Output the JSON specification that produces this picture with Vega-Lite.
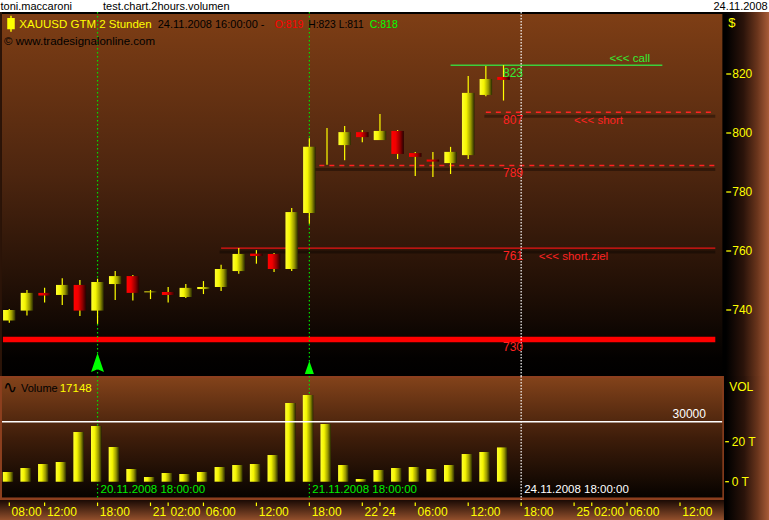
{
"$schema": "https://vega.github.io/schema/vega-lite/v6.json",
"padding": 0,
"background": "#ffffff",
"bounds": "flush",
"spacing": 0,
"config": {"view": {"stroke": null}, "font": "Liberation Sans"},
"datasets": {
"candles": [
{"bar":0,"o":736.4,"h":740.3,"l":735.7,"c":740.0,"v":4850},
{"bar":1,"o":739.8,"h":746.8,"l":738.1,"c":745.8,"v":6850},
{"bar":2,"o":745.8,"h":747.5,"l":742.5,"c":744.9,"v":8850},
{"bar":3,"o":745.1,"h":750.8,"l":741.7,"c":748.5,"v":9850},
{"bar":4,"o":748.5,"h":750.2,"l":738.0,"c":739.8,"v":24850},
{"bar":5,"o":739.8,"h":750.6,"l":735.3,"c":749.5,"v":27850},
{"bar":6,"o":748.8,"h":753.2,"l":743.4,"c":751.5,"v":17350},
{"bar":7,"o":751.5,"h":751.9,"l":743.2,"c":745.8,"v":6350},
{"bar":8,"o":746.0,"h":746.8,"l":743.7,"c":746.3,"v":2350},
{"bar":9,"o":746.1,"h":747.8,"l":742.5,"c":745.1,"v":4350},
{"bar":10,"o":744.4,"h":748.8,"l":744.1,"c":747.5,"v":3850},
{"bar":11,"o":747.1,"h":749.8,"l":745.4,"c":747.8,"v":4850},
{"bar":12,"o":747.8,"h":755.3,"l":746.4,"c":753.9,"v":7350},
{"bar":13,"o":753.2,"h":761.0,"l":752.3,"c":759.0,"v":8350},
{"bar":14,"o":759.1,"h":760.3,"l":755.7,"c":758.3,"v":8850},
{"bar":15,"o":759.0,"h":759.3,"l":752.9,"c":753.9,"v":13350},
{"bar":16,"o":753.9,"h":774.6,"l":753.2,"c":773.2,"v":39350},
{"bar":17,"o":772.9,"h":798.2,"l":769.2,"c":795.3,"v":43350},
{"bar":18,"o":796.0,"h":801.7,"l":789.2,"c":796.0,"v":28850},
{"bar":19,"o":795.9,"h":802.4,"l":790.8,"c":800.3,"v":8350},
{"bar":20,"o":800.3,"h":801.0,"l":796.9,"c":798.6,"v":1350},
{"bar":21,"o":797.6,"h":806.4,"l":797.6,"c":800.7,"v":5850},
{"bar":22,"o":800.7,"h":801.0,"l":791.2,"c":792.9,"v":6850},
{"bar":23,"o":793.2,"h":793.6,"l":785.4,"c":791.9,"v":7350},
{"bar":24,"o":791.0,"h":793.6,"l":785.1,"c":790.3,"v":6350},
{"bar":25,"o":789.8,"h":795.3,"l":786.1,"c":793.6,"v":8350},
{"bar":26,"o":792.5,"h":819.3,"l":791.2,"c":813.6,"v":13850},
{"bar":27,"o":812.9,"h":822.7,"l":812.5,"c":818.3,"v":14850},
{"bar":28,"o":819,"h":823,"l":811,"c":818,"v":17148}
],
"levels": [
{"level":823,"from":25,"to":37,"kind":"call"},
{"level":807,"from":27,"to":40,"kind":"short"},
{"level":789,"from":17,"to":40,"kind":"entry"},
{"level":761,"from":12,"to":40,"kind":"target"},
{"level":730,"from":-0.36,"to":40,"kind":"support"}
],
"markers": [
{"bar":5,"label":"20.11.2008 18:00:00","kind":"signal"},
{"bar":17,"label":"21.11.2008 18:00:00","kind":"signal"},
{"bar":29,"label":"24.11.2008 18:00:00","kind":"now"}
],
"arrows": [
{"bar":5,"y":722.2,"kind":"big"},
{"bar":17,"y":720.5,"kind":"small"}
],
"priceTicks": [{"p":740},{"p":760},{"p":780},{"p":800},{"p":820}],
"volTicks": [{"v":0,"label":"0 T"},{"v":20000,"label":"20 T"}],
"timeTicks": [
{"bar":0,"label":"08:00"},{"bar":2,"label":"12:00"},{"bar":5,"label":"18:00"},
{"bar":8,"label":"21"},{"bar":9,"label":"02:00"},{"bar":11,"label":"06:00"},
{"bar":14,"label":"12:00"},{"bar":17,"label":"18:00"},{"bar":20,"label":"22"},
{"bar":21,"label":"24"},{"bar":23,"label":"06:00"},{"bar":26,"label":"12:00"},
{"bar":29,"label":"18:00"},{"bar":32,"label":"25"},{"bar":33,"label":"02:00"},
{"bar":35,"label":"06:00"},{"bar":38,"label":"12:00"}
]
},
"vconcat": [
{
"width": 769, "height": 12,
"view": {"fill": "#ffffff", "stroke": null},
"data": {"values": [{}]},
"layer": [
{"mark": {"type":"text","align":"left","baseline":"alphabetic","dy":4,"fontSize":11,"color":"#000000","text":"toni.maccaroni"},
 "encoding": {"x": {"datum": -0.5, "type":"quantitative","scale":{"domain":[-0.527,43.042],"nice":false,"zero":false,"padding":0},"axis":null}}},
{"mark": {"type":"text","align":"left","baseline":"alphabetic","dy":4,"fontSize":11,"color":"#000000","text":"test.chart.2hours.volumen"},
 "encoding": {"x": {"datum": 5.31, "type":"quantitative","scale":{"domain":[-0.527,43.042],"nice":false,"zero":false,"padding":0},"axis":null}}},
{"mark": {"type":"text","align":"right","baseline":"alphabetic","dy":4,"fontSize":11,"color":"#000000","text":"24.11.2008"},
 "encoding": {"x": {"datum": 42.97, "type":"quantitative","scale":{"domain":[-0.527,43.042],"nice":false,"zero":false,"padding":0},"axis":null}}}
]
},
{
"width": 769, "height": 364,
"view": {"stroke": null, "fill": {"gradient":"linear","x1":0,"y1":0,"x2":0,"y2":1,"stops":[{"offset":0,"color":"#000000"},{"offset":0.005,"color":"#000000"},{"offset":0.0065,"color":"#7e3e15"},{"offset":0.45,"color":"#4c250f"},{"offset":0.78,"color":"#1e0e05"},{"offset":0.95,"color":"#030100"},{"offset":1,"color":"#000000"}]}},
"layer": [
{"data":{"values":[{}]},"mark":{"type":"rect","fill":"#2b1408"},
 "encoding":{"x":{"datum":-0.527,"type":"quantitative","scale":{"domain":[-0.527,43.042],"nice":false,"zero":false,"padding":0},"axis":null},"x2":{"datum":-0.414}}},
{"data":{"name":"levels"},"transform":[{"filter":"indexof(['short','entry','target'], datum.kind) >= 0"}],
 "mark":{"type":"rule","color":"#000000","opacity":0.35,"strokeWidth":3,"yOffset":4,"xOffset":-1.5},
 "encoding":{"x":{"field":"from","type":"quantitative","scale":{"domain":[-0.527,43.042],"nice":false,"zero":false,"padding":0},"axis":null},"x2":{"field":"to"},
  "y":{"field":"level","type":"quantitative","scale":{"domain":[717.627,841.017],"nice":false,"zero":false},"axis":null}}},
{"data":{"name":"levels"},"transform":[{"filter":"datum.kind === 'call'"}],
 "mark":{"type":"rule","color":"#3ccf3c","strokeWidth":1.5},
 "encoding":{"x":{"field":"from","type":"quantitative","scale":{"domain":[-0.527,43.042],"nice":false,"zero":false,"padding":0},"axis":null},"x2":{"field":"to"},
  "y":{"field":"level","type":"quantitative","scale":{"domain":[717.627,841.017],"nice":false,"zero":false},"axis":null}}},
{"data":{"name":"levels"},"transform":[{"filter":"datum.kind === 'short' || datum.kind === 'entry'"}],
 "mark":{"type":"rule","color":"#ff2222","strokeWidth":1.5,"strokeDash":[5,5]},
 "encoding":{"x":{"field":"from","type":"quantitative","scale":{"domain":[-0.527,43.042],"nice":false,"zero":false,"padding":0},"axis":null},"x2":{"field":"to"},
  "y":{"field":"level","type":"quantitative","scale":{"domain":[717.627,841.017],"nice":false,"zero":false},"axis":null}}},
{"data":{"name":"levels"},"transform":[{"filter":"datum.kind === 'target'"}],
 "mark":{"type":"rule","color":"#e81414","strokeWidth":1.3},
 "encoding":{"x":{"field":"from","type":"quantitative","scale":{"domain":[-0.527,43.042],"nice":false,"zero":false,"padding":0},"axis":null},"x2":{"field":"to"},
  "y":{"field":"level","type":"quantitative","scale":{"domain":[717.627,841.017],"nice":false,"zero":false},"axis":null}}},
{"data":{"name":"levels"},"transform":[{"filter":"datum.kind === 'support'"}],
 "mark":{"type":"rule","color":"#ff0000","strokeWidth":5.5},
 "encoding":{"x":{"field":"from","type":"quantitative","scale":{"domain":[-0.527,43.042],"nice":false,"zero":false,"padding":0},"axis":null},"x2":{"field":"to"},
  "y":{"field":"level","type":"quantitative","scale":{"domain":[717.627,841.017],"nice":false,"zero":false},"axis":null}}},
{"data":{"name":"markers"},"transform":[{"filter":"datum.kind === 'signal'"}],
 "mark":{"type":"rule","color":"#00e000","strokeWidth":1.2,"strokeDash":[1.5,2.5]},
 "encoding":{"x":{"field":"bar","type":"quantitative","scale":{"domain":[-0.527,43.042],"nice":false,"zero":false,"padding":0},"axis":null}}},
{"data":{"name":"markers"},"transform":[{"filter":"datum.kind === 'now'"}],
 "mark":{"type":"rule","color":"#ffffff","strokeWidth":1.2,"strokeDash":[1.5,1.5]},
 "encoding":{"x":{"field":"bar","type":"quantitative","scale":{"domain":[-0.527,43.042],"nice":false,"zero":false,"padding":0},"axis":null}}},
{"data":{"name":"candles"},
 "mark":{"type":"rule","color":"#ffff00","strokeWidth":1.2},
 "encoding":{"x":{"field":"bar","type":"quantitative","scale":{"domain":[-0.527,43.042],"nice":false,"zero":false,"padding":0},"axis":null},
  "y":{"field":"l","type":"quantitative","scale":{"domain":[717.627,841.017],"nice":false,"zero":false},"axis":null},
  "y2":{"field":"h"}}},
{"data":{"name":"candles"},"transform":[{"filter":"datum.c >= datum.o"}],
 "mark":{"type":"bar","width":12.5,"fill":{"gradient":"linear","x1":0,"y1":0,"x2":1,"y2":0,"stops":[{"offset":0,"color":"#ffff30"},{"offset":0.35,"color":"#f5f500"},{"offset":0.7,"color":"#9a9a00"},{"offset":1,"color":"#262600"}]}},
 "encoding":{"x":{"field":"bar","type":"quantitative","scale":{"domain":[-0.527,43.042],"nice":false,"zero":false,"padding":0},"axis":null},
  "y":{"field":"o","type":"quantitative","scale":{"domain":[717.627,841.017],"nice":false,"zero":false},"axis":null},"y2":{"field":"c"}}},
{"data":{"name":"candles"},"transform":[{"filter":"datum.c < datum.o"}],
 "mark":{"type":"bar","width":12.5,"fill":{"gradient":"linear","x1":0,"y1":0,"x2":1,"y2":0,"stops":[{"offset":0,"color":"#ff0000"},{"offset":0.35,"color":"#f00000"},{"offset":0.7,"color":"#900000"},{"offset":1,"color":"#250000"}]}},
 "encoding":{"x":{"field":"bar","type":"quantitative","scale":{"domain":[-0.527,43.042],"nice":false,"zero":false,"padding":0},"axis":null},
  "y":{"field":"o","type":"quantitative","scale":{"domain":[717.627,841.017],"nice":false,"zero":false},"axis":null},"y2":{"field":"c"}}},
{"data":{"name":"arrows"},"transform":[{"filter":"datum.kind === 'big'"}],
 "mark":{"type":"point","filled":true,"opacity":1,"color":"#00ff00","size":361,"shape":"M0,-1L0.68,1L0,0.72L-0.68,1Z"},
 "encoding":{"x":{"field":"bar","type":"quantitative","scale":{"domain":[-0.527,43.042],"nice":false,"zero":false,"padding":0},"axis":null},
  "y":{"field":"y","type":"quantitative","scale":{"domain":[717.627,841.017],"nice":false,"zero":false},"axis":null}}},
{"data":{"name":"arrows"},"transform":[{"filter":"datum.kind === 'small'"}],
 "mark":{"type":"point","filled":true,"opacity":1,"color":"#00ff00","size":169,"shape":"M0,-1L0.7,1L-0.7,1Z"},
 "encoding":{"x":{"field":"bar","type":"quantitative","scale":{"domain":[-0.527,43.042],"nice":false,"zero":false,"padding":0},"axis":null},
  "y":{"field":"y","type":"quantitative","scale":{"domain":[717.627,841.017],"nice":false,"zero":false},"axis":null}}},
{"data":{"name":"levels"},
 "mark":{"type":"text","align":"left","baseline":"top","dy":3,"dx":-0.5,"fontSize":12},
 "encoding":{"x":{"datum":28,"type":"quantitative","scale":{"domain":[-0.527,43.042],"nice":false,"zero":false,"padding":0},"axis":null},
  "y":{"field":"level","type":"quantitative","scale":{"domain":[717.627,841.017],"nice":false,"zero":false},"axis":null},
  "text":{"field":"level","type":"quantitative"},
  "color":{"condition":{"test":"datum.kind === 'call'","value":"#33ee33"},"value":"#ff2222"}}},
{"data":{"values":[{}]},
 "mark":{"type":"text","align":"left","baseline":"bottom","dy":-1.5,"fontSize":11.5,"color":"#33ee33","text":"<<< call"},
 "encoding":{"x":{"datum":34,"type":"quantitative","scale":{"domain":[-0.527,43.042],"nice":false,"zero":false,"padding":0},"axis":null},
  "y":{"datum":823,"type":"quantitative","scale":{"domain":[717.627,841.017],"nice":false,"zero":false},"axis":null}}},
{"data":{"values":[{}]},
 "mark":{"type":"text","align":"left","baseline":"top","dy":3,"fontSize":11.5,"color":"#ff2222","text":"<<< short"},
 "encoding":{"x":{"datum":32,"type":"quantitative","scale":{"domain":[-0.527,43.042],"nice":false,"zero":false,"padding":0},"axis":null},
  "y":{"datum":807,"type":"quantitative","scale":{"domain":[717.627,841.017],"nice":false,"zero":false},"axis":null}}},
{"data":{"values":[{}]},
 "mark":{"type":"text","align":"left","baseline":"top","dy":3,"fontSize":11.5,"color":"#ff2222","text":"<<< short.ziel"},
 "encoding":{"x":{"datum":30,"type":"quantitative","scale":{"domain":[-0.527,43.042],"nice":false,"zero":false,"padding":0},"axis":null},
  "y":{"datum":761,"type":"quantitative","scale":{"domain":[717.627,841.017],"nice":false,"zero":false},"axis":null}}},
{"data":{"values":[{}]},
 "mark":{"type":"text","align":"left","baseline":"alphabetic","fontSize":11.5,"color":"#ffff00","text":"XAUUSD GTM 2 Stunden"},
 "encoding":{"x":{"datum":0.567,"type":"quantitative","scale":{"domain":[-0.527,43.042],"nice":false,"zero":false,"padding":0},"axis":null},
  "y":{"datum":835.59,"type":"quantitative","scale":{"domain":[717.627,841.017],"nice":false,"zero":false},"axis":null}}},
{"data":{"values":[{}]},
 "mark":{"type":"text","align":"left","baseline":"alphabetic","fontSize":11,"color":"#000000","text":"24.11.2008 16:00:00 -"},
 "encoding":{"x":{"datum":8.408,"type":"quantitative","scale":{"domain":[-0.527,43.042],"nice":false,"zero":false,"padding":0},"axis":null},
  "y":{"datum":835.59,"type":"quantitative","scale":{"domain":[717.627,841.017],"nice":false,"zero":false},"axis":null}}},
{"data":{"values":[{}]},
 "mark":{"type":"text","align":"left","baseline":"alphabetic","fontSize":10.5,"color":"#ff0000","text":"O:819"},
 "encoding":{"x":{"datum":15.037,"type":"quantitative","scale":{"domain":[-0.527,43.042],"nice":false,"zero":false,"padding":0},"axis":null},
  "y":{"datum":835.59,"type":"quantitative","scale":{"domain":[717.627,841.017],"nice":false,"zero":false},"axis":null}}},
{"data":{"values":[{}]},
 "mark":{"type":"text","align":"left","baseline":"alphabetic","fontSize":10.3,"color":"#000000","text":"H:823 L:811"},
 "encoding":{"x":{"datum":16.941,"type":"quantitative","scale":{"domain":[-0.527,43.042],"nice":false,"zero":false,"padding":0},"axis":null},
  "y":{"datum":835.59,"type":"quantitative","scale":{"domain":[717.627,841.017],"nice":false,"zero":false},"axis":null}}},
{"data":{"values":[{}]},
 "mark":{"type":"text","align":"left","baseline":"alphabetic","fontSize":10.5,"color":"#00ff00","text":"C:818"},
 "encoding":{"x":{"datum":20.42,"type":"quantitative","scale":{"domain":[-0.527,43.042],"nice":false,"zero":false,"padding":0},"axis":null},
  "y":{"datum":835.59,"type":"quantitative","scale":{"domain":[717.627,841.017],"nice":false,"zero":false},"axis":null}}},
{"data":{"values":[{}]},
 "mark":{"type":"text","align":"left","baseline":"alphabetic","fontSize":11.5,"color":"#000000","text":"© www.tradesignalonline.com"},
 "encoding":{"x":{"datum":-0.3,"type":"quantitative","scale":{"domain":[-0.527,43.042],"nice":false,"zero":false,"padding":0},"axis":null},
  "y":{"datum":829.93,"type":"quantitative","scale":{"domain":[717.627,841.017],"nice":false,"zero":false},"axis":null}}},
{"data":{"values":[{}]},
 "mark":{"type":"point","filled":true,"opacity":1,"color":"#ffff00","size":256,"shape":"M-0.47,-0.7H0.47V0.68H-0.47Z M-0.09,-1H0.09V1H-0.09Z"},
 "encoding":{"x":{"datum":0.096,"type":"quantitative","scale":{"domain":[-0.527,43.042],"nice":false,"zero":false,"padding":0},"axis":null},
  "y":{"datum":837.05,"type":"quantitative","scale":{"domain":[717.627,841.017],"nice":false,"zero":false},"axis":null}}},
{"data":{"values":[{}]},
 "mark":{"type":"rect","fill":{"gradient":"linear","x1":0,"y1":0,"x2":1,"y2":0,"stops":[{"offset":0,"color":"#000000"},{"offset":0.08,"color":"#000000"},{"offset":0.45,"color":"#2a130a"},{"offset":0.75,"color":"#6a351c"},{"offset":1,"color":"#a85c38"}]}},
 "encoding":{"x":{"datum":40.4,"type":"quantitative","scale":{"domain":[-0.527,43.042],"nice":false,"zero":false,"padding":0},"axis":null},"x2":{"datum":43.042}}},
{"data":{"name":"priceTicks"},
 "mark":{"type":"rule","color":"#ffff00","strokeWidth":1.3},
 "encoding":{"x":{"datum":40.62,"type":"quantitative","scale":{"domain":[-0.527,43.042],"nice":false,"zero":false,"padding":0},"axis":null},"x2":{"datum":40.9},
  "y":{"field":"p","type":"quantitative","scale":{"domain":[717.627,841.017],"nice":false,"zero":false},"axis":null}}},
{"data":{"name":"priceTicks"},
 "mark":{"type":"text","align":"left","baseline":"middle","fontSize":12,"color":"#ffff00"},
 "encoding":{"x":{"datum":40.96,"type":"quantitative","scale":{"domain":[-0.527,43.042],"nice":false,"zero":false,"padding":0},"axis":null},
  "y":{"field":"p","type":"quantitative","scale":{"domain":[717.627,841.017],"nice":false,"zero":false},"axis":null},
  "text":{"field":"p","type":"quantitative"}}},
{"data":{"values":[{}]},
 "mark":{"type":"text","align":"left","baseline":"alphabetic","fontSize":13,"color":"#ffff00","text":"$"},
 "encoding":{"x":{"datum":40.74,"type":"quantitative","scale":{"domain":[-0.527,43.042],"nice":false,"zero":false,"padding":0},"axis":null},
  "y":{"datum":835.93,"type":"quantitative","scale":{"domain":[717.627,841.017],"nice":false,"zero":false},"axis":null}}}
]
},
{
"width": 769, "height": 124,
"view": {"stroke": null, "fill": {"gradient":"linear","x1":0,"y1":0,"x2":0,"y2":1,"stops":[{"offset":0,"color":"#8c3f1e"},{"offset":0.014,"color":"#8c3f1e"},{"offset":0.018,"color":"#82421a"},{"offset":0.5,"color":"#3e1d0a"},{"offset":0.975,"color":"#070300"},{"offset":0.984,"color":"#8c3f1e"},{"offset":1,"color":"#8c3f1e"}]}},
"layer": [
{"data":{"values":[{}]},"mark":{"type":"rect","fill":"#8c3f1e"},
 "encoding":{"x":{"datum":-0.527,"type":"quantitative","scale":{"domain":[-0.527,43.042],"nice":false,"zero":false,"padding":0},"axis":null},"x2":{"datum":-0.414}}},
{"data":{"name":"markers"},"transform":[{"filter":"datum.kind === 'signal'"}],
 "mark":{"type":"rule","color":"#00e000","strokeWidth":1.2,"strokeDash":[1.5,2.5]},
 "encoding":{"x":{"field":"bar","type":"quantitative","scale":{"domain":[-0.527,43.042],"nice":false,"zero":false,"padding":0},"axis":null}}},
{"data":{"name":"markers"},"transform":[{"filter":"datum.kind === 'now'"}],
 "mark":{"type":"rule","color":"#ffffff","strokeWidth":1.2,"strokeDash":[1.5,1.5]},
 "encoding":{"x":{"field":"bar","type":"quantitative","scale":{"domain":[-0.527,43.042],"nice":false,"zero":false,"padding":0},"axis":null}}},
{"data":{"name":"candles"},
 "mark":{"type":"bar","width":10.5,"xOffset":-1.3,"fill":{"gradient":"linear","x1":0,"y1":0,"x2":1,"y2":0,"stops":[{"offset":0,"color":"#ffff30"},{"offset":0.35,"color":"#f5f500"},{"offset":0.7,"color":"#9a9a00"},{"offset":1,"color":"#262600"}]}},
 "encoding":{"x":{"field":"bar","type":"quantitative","scale":{"domain":[-0.527,43.042],"nice":false,"zero":false,"padding":0},"axis":null},
  "y":{"field":"v","type":"quantitative","scale":{"domain":[-9150,52850],"nice":false,"zero":false},"axis":null},
  "y2":{"datum":0}}},
{"data":{"values":[{"level":30000}]},
 "mark":{"type":"rule","color":"#ffffff","strokeWidth":1.5},
 "encoding":{"x":{"datum":-0.414,"type":"quantitative","scale":{"domain":[-0.527,43.042],"nice":false,"zero":false,"padding":0},"axis":null},"x2":{"datum":40.4},
  "y":{"field":"level","type":"quantitative","scale":{"domain":[-9150,52850],"nice":false,"zero":false},"axis":null}}},
{"data":{"values":[{"level":30000}]},
 "mark":{"type":"text","align":"right","baseline":"alphabetic","dy":-4,"fontSize":12,"color":"#ffffff"},
 "encoding":{"x":{"datum":39.47,"type":"quantitative","scale":{"domain":[-0.527,43.042],"nice":false,"zero":false,"padding":0},"axis":null},
  "y":{"field":"level","type":"quantitative","scale":{"domain":[-9150,52850],"nice":false,"zero":false},"axis":null},
  "text":{"field":"level","type":"quantitative","format":"d"}}},
{"data":{"name":"markers"},
 "mark":{"type":"text","align":"left","baseline":"alphabetic","dx":3,"fontSize":11.5},
 "encoding":{"x":{"field":"bar","type":"quantitative","scale":{"domain":[-0.527,43.042],"nice":false,"zero":false,"padding":0},"axis":null},
  "y":{"datum":-5400,"type":"quantitative","scale":{"domain":[-9150,52850],"nice":false,"zero":false},"axis":null},
  "text":{"field":"label"},
  "color":{"condition":{"test":"datum.kind === 'now'","value":"#ffffff"},"value":"#00ee00"}}},
{"data":{"values":[{}]},
 "mark":{"type":"text","align":"left","baseline":"alphabetic","dy":1,"fontSize":17,"font":"DejaVu Sans","color":"#000000","text":"∿"},
 "encoding":{"x":{"datum":-0.36,"type":"quantitative","scale":{"domain":[-0.527,43.042],"nice":false,"zero":false,"padding":0},"axis":null},
  "y":{"datum":44850,"type":"quantitative","scale":{"domain":[-9150,52850],"nice":false,"zero":false},"axis":null}}},
{"data":{"values":[{}]},
 "mark":{"type":"text","align":"left","baseline":"alphabetic","fontSize":11,"color":"#000000","text":"Volume"},
 "encoding":{"x":{"datum":0.663,"type":"quantitative","scale":{"domain":[-0.527,43.042],"nice":false,"zero":false,"padding":0},"axis":null},
  "y":{"datum":44850,"type":"quantitative","scale":{"domain":[-9150,52850],"nice":false,"zero":false},"axis":null}}},
{"data":{"values":[{}]},
 "mark":{"type":"text","align":"left","baseline":"alphabetic","fontSize":11.5,"color":"#ffff00","text":"17148"},
 "encoding":{"x":{"datum":2.856,"type":"quantitative","scale":{"domain":[-0.527,43.042],"nice":false,"zero":false,"padding":0},"axis":null},
  "y":{"datum":44850,"type":"quantitative","scale":{"domain":[-9150,52850],"nice":false,"zero":false},"axis":null}}},
{"data":{"values":[{}]},"mark":{"type":"rect","fill":"#8c3f1e"},
 "encoding":{"x":{"datum":40.4,"type":"quantitative","scale":{"domain":[-0.527,43.042],"nice":false,"zero":false,"padding":0},"axis":null},"x2":{"datum":40.49}}},
{"data":{"values":[{}]},
 "mark":{"type":"rect","fill":{"gradient":"linear","x1":0,"y1":0,"x2":1,"y2":0,"stops":[{"offset":0,"color":"#000000"},{"offset":0.05,"color":"#000000"},{"offset":0.45,"color":"#2a130a"},{"offset":0.75,"color":"#6a351c"},{"offset":1,"color":"#a85c38"}]}},
 "encoding":{"x":{"datum":40.49,"type":"quantitative","scale":{"domain":[-0.527,43.042],"nice":false,"zero":false,"padding":0},"axis":null},"x2":{"datum":43.042}}},
{"data":{"name":"volTicks"},
 "mark":{"type":"rule","color":"#ffff00","strokeWidth":1.3},
 "encoding":{"x":{"datum":40.56,"type":"quantitative","scale":{"domain":[-0.527,43.042],"nice":false,"zero":false,"padding":0},"axis":null},"x2":{"datum":40.77},
  "y":{"field":"v","type":"quantitative","scale":{"domain":[-9150,52850],"nice":false,"zero":false},"axis":null}}},
{"data":{"name":"volTicks"},
 "mark":{"type":"text","align":"left","baseline":"middle","fontSize":12,"color":"#ffff00"},
 "encoding":{"x":{"datum":40.93,"type":"quantitative","scale":{"domain":[-0.527,43.042],"nice":false,"zero":false,"padding":0},"axis":null},
  "y":{"field":"v","type":"quantitative","scale":{"domain":[-9150,52850],"nice":false,"zero":false},"axis":null},
  "text":{"field":"label"}}},
{"data":{"values":[{}]},
 "mark":{"type":"text","align":"left","baseline":"alphabetic","fontSize":12,"color":"#ffff00","text":"VOL"},
 "encoding":{"x":{"datum":40.79,"type":"quantitative","scale":{"domain":[-0.527,43.042],"nice":false,"zero":false,"padding":0},"axis":null},
  "y":{"datum":45500,"type":"quantitative","scale":{"domain":[-9150,52850],"nice":false,"zero":false},"axis":null}}}
]
},
{
"width": 769, "height": 20,
"view": {"stroke": null, "fill": {"gradient":"linear","x1":0,"y1":0,"x2":0,"y2":1,"stops":[{"offset":0,"color":"#1a0a04"},{"offset":1,"color":"#93502c"}]}},
"layer": [
{"data":{"values":[{}]},
 "mark":{"type":"rect","fill":{"gradient":"linear","x1":0,"y1":0,"x2":1,"y2":0,"stops":[{"offset":0,"color":"#000000"},{"offset":0.05,"color":"#000000"},{"offset":0.45,"color":"#2a130a"},{"offset":0.75,"color":"#6a351c"},{"offset":1,"color":"#a85c38"}]}},
 "encoding":{"x":{"datum":40.49,"type":"quantitative","scale":{"domain":[-0.527,43.042],"nice":false,"zero":false,"padding":0},"axis":null},"x2":{"datum":43.042}}},
{"data":{"name":"timeTicks"},
 "mark":{"type":"tick","color":"#ffff00","size":3.5,"thickness":1.2,"yOffset":-5.7,"opacity":1},
 "encoding":{"x":{"field":"bar","type":"quantitative","scale":{"domain":[-0.527,43.042],"nice":false,"zero":false,"padding":0},"axis":null}}},
{"data":{"name":"timeTicks"},
 "mark":{"type":"text","align":"left","baseline":"alphabetic","dx":2.3,"dy":5.7,"fontSize":12,"color":"#ffff00"},
 "encoding":{"x":{"field":"bar","type":"quantitative","scale":{"domain":[-0.527,43.042],"nice":false,"zero":false,"padding":0},"axis":null},
  "text":{"field":"label"}}}
]
}
]
}
